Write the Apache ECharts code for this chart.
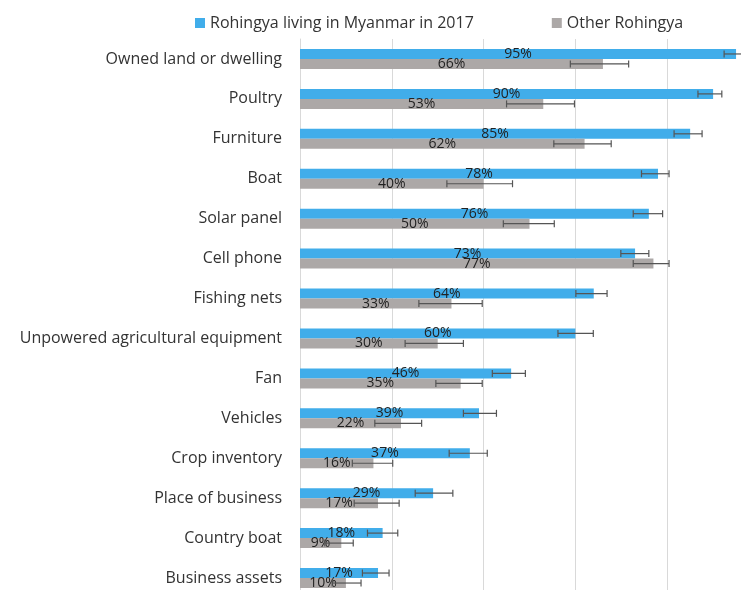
<!DOCTYPE html>
<html>
<head>
<meta charset="utf-8">
<script src="https://cdn.jsdelivr.net/npm/echarts@6/dist/echarts.min.js"></script>
<style>
    html, body { margin: 0; padding: 0; background: #fff; }
    #chart { width: 741px; height: 590px; }
</style>
</head>
<body>
<div id="chart"></div>
<script>
var categories = ['Owned land or dwelling', 'Poultry', 'Furniture', 'Boat', 'Solar panel', 'Cell phone', 'Fishing nets',
    'Unpowered agricultural equipment', 'Fan', 'Vehicles', 'Crop inventory', 'Place of business', 'Country boat', 'Business assets'];

// share owning each asset (%)
var myanmar = [95, 90, 85, 78, 76, 73, 64, 60, 46, 39, 37, 29, 18, 17];
var other = [66, 53, 62, 40, 50, 77, 33, 30, 35, 22, 16, 17, 9, 10];

// error bar ends (%)
var myanmarLow = [92.4, 86.7, 81.5, 74.4, 72.6, 69.9, 60.1, 56.2, 41.9, 35.6, 32.5, 25.1, 14.7, 13.6];
var myanmarHigh = [97.5, 91.9, 87.6, 80.4, 79.0, 76.0, 66.9, 63.9, 49.1, 42.8, 40.8, 33.3, 21.3, 19.4];
var otherLow = [58.9, 45.0, 55.3, 32.0, 44.3, 72.6, 25.9, 22.9, 29.6, 16.3, 11.4, 11.8, 5.4, 7.0];
var otherHigh = [71.6, 59.8, 67.8, 46.3, 55.4, 80.4, 39.7, 35.6, 39.7, 26.5, 20.2, 21.6, 11.6, 13.3];

var legendNames = ['Rohingya living in Myanmar in 2017', 'Other Rohingya'];

function errData(low, high) {
    var out = [];
    for (var i = 0; i < low.length; i++) {
        out.push([low[i], high[i], i]);
    }
    return out;
}

// draws one whisker with caps, shifted to sit on its bar
function errRenderer(offset) {
    return function (params, api) {
        var cat = api.value(2);
        var a = api.coord([api.value(0), cat]);
        var b = api.coord([api.value(1), cat]);
        var y = a[1] + offset;
        var h = 3.5;
        var style = { stroke: '#555', lineWidth: 1.2 };
        return {
            type: 'group',
            children: [
                { type: 'line', shape: { x1: a[0], y1: y, x2: b[0], y2: y }, style: style },
                { type: 'line', shape: { x1: a[0], y1: y - h, x2: a[0], y2: y + h }, style: style },
                { type: 'line', shape: { x1: b[0], y1: y - h, x2: b[0], y2: y + h }, style: style }
            ]
        };
    };
}

var myChart = echarts.init(document.getElementById('chart'));

var barLabel = {
    show: true,
    position: 'inside',
    formatter: '{c}%',
    color: '#222',
    fontSize: 14,
    fontFamily: 'Open Sans'
};

var option = {
    animation: false,
    textStyle: { fontFamily: 'Open Sans' },
    legend: {
        data: legendNames,
        left: 190,
        top: 10,
        icon: 'rect',
        itemWidth: 10,
        itemHeight: 10,
        itemGap: 78,
        textStyle: { fontSize: 16, color: '#333', fontFamily: 'Open Sans' }
    },
    grid: {
        left: 300,
        top: 39,
        width: 459,
        height: 559,
        outerBoundsMode: 'none'
    },
    xAxis: {
        type: 'value',
        min: 0,
        max: 100,
        interval: 20,
        axisLabel: { show: false },
        axisLine: { show: false },
        axisTick: { show: false },
        splitLine: { lineStyle: { color: '#d9d9d9', width: 1 } }
    },
    yAxis: {
        type: 'category',
        data: categories,
        inverse: true,
        axisTick: { show: false },
        axisLine: { lineStyle: { color: '#d9d9d9' } },
        axisLabel: { fontSize: 16, color: '#333', margin: 18, fontFamily: 'Open Sans' }
    },
    series: [
        {
            name: legendNames[0],
            type: 'bar',
            data: myanmar,
            barWidth: 10,
            barGap: '0%',
            itemStyle: { color: '#41ADEA' },
            label: barLabel,
            z: 2
        },
        {
            name: legendNames[1],
            type: 'bar',
            data: other,
            barWidth: 10,
            barGap: '0%',
            itemStyle: { color: '#ACA8A7' },
            label: barLabel,
            z: 2
        },
        {
            type: 'custom',
            data: errData(myanmarLow, myanmarHigh),
            encode: { x: [0, 1], y: 2 },
            renderItem: errRenderer(-5),
            silent: true,
            z: 3
        },
        {
            type: 'custom',
            data: errData(otherLow, otherHigh),
            encode: { x: [0, 1], y: 2 },
            renderItem: errRenderer(5),
            silent: true,
            z: 3
        }
    ]
};

myChart.setOption(option);
</script>
</body>
</html>
